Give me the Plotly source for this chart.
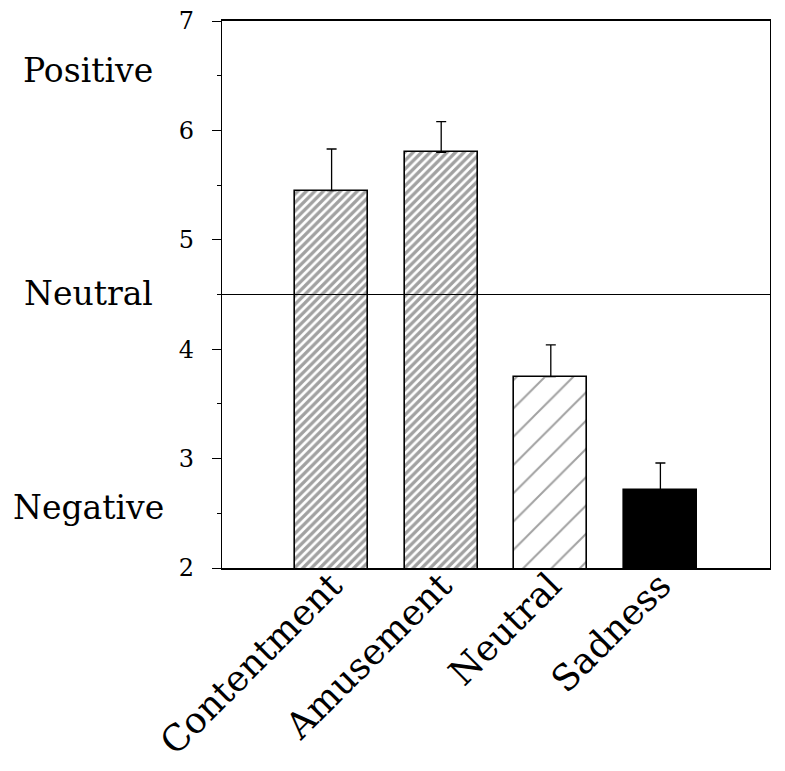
import plotly.graph_objects as go

categories = ["Contentment", "Amusement", "Neutral", "Sadness"]
means = [5.45, 5.80, 3.75, 2.71]
errors = [0.38, 0.28, 0.29, 0.25]
y_ticks = [2, 3, 4, 5, 6, 7]
side_labels = ["Positive", "Neutral", "Negative"]
side_label_y = [6.55, 4.51, 2.55]
neutral_line = 4.5

pattern_shapes = ["/", "/", "/", ""]
pattern_sizes = [6, 6, 20, 8]
pattern_solidity = [0.55, 0.55, 0.1, 0.3]
fill_colors = ["white", "white", "white", "black"]

FONT = "DejaVu Serif"

fig = go.Figure()
fig.add_trace(go.Bar(
    x=list(range(len(categories))),
    y=means,
    width=0.665,
    marker=dict(
        color=fill_colors,
        line=dict(color="black", width=1.6),
        pattern=dict(shape=pattern_shapes, size=pattern_sizes,
                     solidity=pattern_solidity, fgcolor="black",
                     bgcolor="white", fillmode="overlay"),
    ),
    error_y=dict(type="data", symmetric=False, array=errors,
                 arrayminus=[0] * len(errors), color="black",
                 thickness=1.3, width=5),
    showlegend=False,
))

fig.add_shape(type="line", xref="paper", x0=0, x1=1, yref="y",
              y0=neutral_line, y1=neutral_line,
              line=dict(color="black", width=1.2), layer="above")

for txt, yv in zip(side_labels, side_label_y):
    fig.add_annotation(text=txt, xref="paper", x=(88 - 222) / 548,
                       yref="y", y=yv, showarrow=False,
                       xanchor="center", yanchor="middle",
                       font=dict(family=FONT, size=33, color="black"))

fig.update_layout(
    width=777, height=763,
    margin=dict(l=214, r=15, t=13, b=203),
    paper_bgcolor="white", plot_bgcolor="white",
    font=dict(family=FONT, color="black"),
    bargap=0,
)
fig.update_xaxes(
    range=[-1, 4], tickmode="array",
    tickvals=list(range(len(categories))), ticktext=categories,
    tickangle=-45, ticks="", showgrid=False, zeroline=False,
    showline=True, linecolor="black", linewidth=2, mirror=True,
    tickfont=dict(family=FONT, size=36, color="black"),
    ticklabelstandoff=-20, ticklabeloverflow="allow",
    automargin=False,
)
fig.update_yaxes(
    range=[2, 7], tickmode="array", tickvals=y_ticks,
    ticks="outside", ticklen=9, tickwidth=1.3, tickcolor="black",
    minor=dict(ticks="outside", ticklen=4, dtick=0.5, tickcolor="black", tickwidth=1),
    showgrid=False, zeroline=False,
    showline=True, linecolor="black", linewidth=1.3, mirror=True,
    tickfont=dict(family=FONT, size=24, color="black"),
    ticklabelstandoff=13, ticklabeloverflow="allow", automargin=False,
)

fig.write_html("out.html")
